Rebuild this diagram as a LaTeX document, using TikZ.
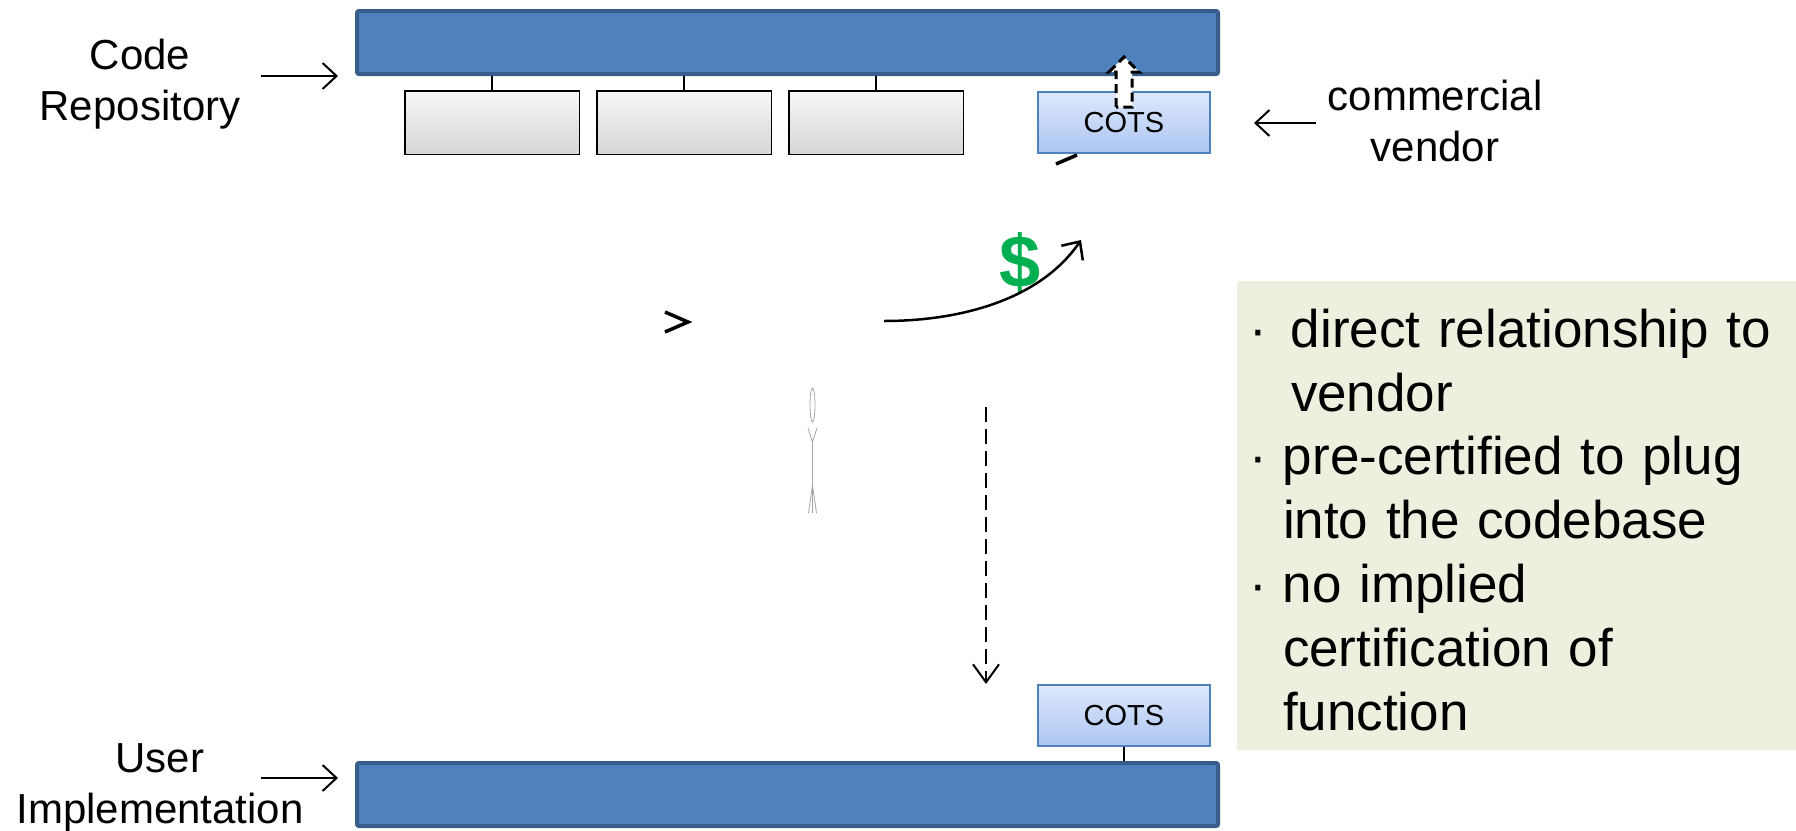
\documentclass[tikz,border=0pt]{standalone}
\usepackage{fontspec}
\setmainfont{Liberation Sans}
\usetikzlibrary{arrows.meta, positioning, calc}
\definecolor{barblue}{RGB}{79,129,189}
\definecolor{barline}{RGB}{56,93,138}
\definecolor{cotsline}{RGB}{79,129,189}
\definecolor{cotstop}{RGB}{222,232,252}
\definecolor{cotsbot}{RGB}{172,198,242}
\definecolor{notegreen}{RGB}{235,241,222}
\definecolor{cashgreen}{RGB}{0,176,80}
\tikzset{bar/.style={rectangle,draw=barline,line width=4pt,fill=barblue,rounded corners=2pt,minimum width=861pt,minimum height=63pt},
         module/.style={rectangle,draw,line width=1.5pt,top color=gray!6,bottom color=gray!32,minimum width=174.5pt,minimum height=63.5pt},
         cots/.style={rectangle,draw=cotsline,line width=2pt,top color=cotstop,bottom color=cotsbot,minimum width=172pt,minimum height=61pt,font=\fontsize{29}{34}\selectfont},
         lbl/.style={align=center,inner sep=0pt,font=\fontsize{42}{51}\selectfont},
         notebox/.style={rectangle,fill=notegreen,align=left,text width=535pt,inner xsep=12pt,inner ysep=0pt,minimum height=469pt,font=\fontsize{53}{63.8}\selectfont},
         dollarsign/.style={inner sep=0pt,text=cashgreen,font=\fontsize{74}{80}\selectfont\bfseries},
         link/.style={line width=2pt},
         pointer/.style={-{Straight Barb[length=14pt,width=26pt]},line width=2pt},
         hollowup/.style={draw,fill=white,line width=3pt,dash pattern=on 9pt off 5pt},
         dasharrow/.style={-{Straight Barb[length=18pt,width=26pt]},line width=2pt,dash pattern=on 15pt off 7pt},
         stray/.style={line width=3.5pt},
         whisker/.style={line width=0.8pt,gray!70}}
\begin{document}
\begin{tikzpicture}[x=1pt,y=-1pt]
    \useasboundingbox (0,0) rectangle (1796,830);
    % code repository
    \node (repo) [bar] at (787.5,42.5) {};
    \node (g1) [module] at (492,122.5) {};
    \node (g2) [module, right=16pt of g1] {};
    \node (g3) [module, right=16pt of g2] {};
    \node (cotsA) [cots] at (1124,122.5) {COTS};
    \foreach \g in {g1,g2,g3} {\draw[link] (\g.north) -- (\g.north |- repo.south);}
    \draw[hollowup] ($(cotsA.north)+(-8,16)$) -- ++(0,-35) -- ++(-7,0) -- ++(15,-15) -- ++(15,15) -- ++(-7,0) -- ++(0,35) -- cycle;
    % user implementation
    \node (impl) [bar] at (787.5,794.5) {};
    \node (cotsB) [cots] at (1124,715.5) {COTS};
    \draw[link] (cotsB.south) -- (cotsB.south |- impl.north);
    % labels
    \node (repolbl) [lbl] at (140,84) {Code\\Repository};
    \node (impllbl) [lbl] at (160,788) {User\\Implementation};
    \node (vendlbl) [lbl] at (1435,121) {commercial\\vendor};
    \coordinate (repoarr) at (261,76);
    \coordinate (implarr) at (261,778);
    \draw[pointer] (repoarr) -- ($(repo.west |- repoarr)+(-17,0)$);
    \draw[pointer] (implarr) -- ($(impl.west |- implarr)+(-17,0)$);
    \draw[pointer] ($(vendlbl.west)+(-11,2)$) -- ($(cotsA.east |- vendlbl.west)+(43,2)$);
    % payment to vendor
    \node (dollar) [dollarsign] at (1020,263) {\$};
    \coordinate (payfrom) at (884,321);
    \coordinate (payto) at (1081,240);
    \draw[pointer, line width=2.5pt] (payfrom) .. controls (960,321) and (1040,300) .. (payto);
    \coordinate (dashtop) at (986,407);
    \draw[dasharrow] (dashtop) -- (dashtop |- cotsB.north);
    % leftover marks
    \draw[stray] (665,312) -- (688,322) -- (665,332);
    \draw[stray] (1056,164) -- (1077,155);
    \draw[whisker] (812.5,405) ellipse (2.5 and 17);
    \draw[whisker] (808,428) -- (812.5,442) -- (817,428);
    \draw[whisker] (812.5,441) -- (812.5,513);
    \draw[whisker] (808.5,513) -- (812.5,485) -- (816.5,513);
    % notes
    \node (notes) [notebox] at (1516.5,515.5) {\rule{0pt}{47pt}\makebox[42pt][l]{\textperiodcentered}direct relationship to\\
      \hspace*{42pt}vendor\\
      \makebox[34pt][l]{\textperiodcentered}pre-certified to plug\\
      \hspace*{34pt}into the codebase\\
      \makebox[34pt][l]{\textperiodcentered}no implied\\
      \hspace*{34pt}certification of\\
      \hspace*{34pt}function};
\end{tikzpicture}
\end{document}
